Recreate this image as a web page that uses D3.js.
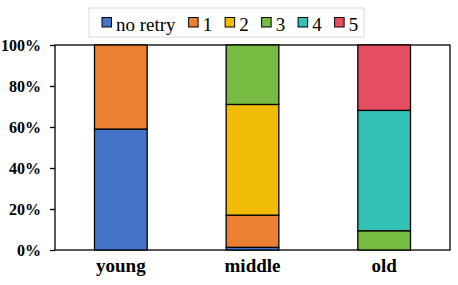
<!DOCTYPE html>
<meta charset="utf-8">
<style>
  body { margin: 0; background: #fff; }
  #chart text { font-family: "Liberation Serif", "Times New Roman", serif; fill: #000; }
</style>
<body>
<svg id="chart"></svg>
</body>
<script src="https://cdn.jsdelivr.net/npm/d3@7"></script>
<script>
// categories and series (percent of each group)
var groups = ["young", "middle", "old"];
var seriesNames = ["no retry", "1", "2", "3", "4", "5"];
var seriesColors = ["#4674CA", "#ED7F33", "#F1BC05", "#77BC42", "#31C1B5", "#E54D60"];
var noRetry = [59, 1.3, 0];
var retry1  = [41, 15.7, 0];
var retry2  = [0, 54, 0];
var retry3  = [0, 29, 9.4];
var retry4  = [0, 0, 58.7];
var retry5  = [0, 0, 31.9];
var yTicks = [0, 20, 40, 60, 80, 100];

var width = 458, height = 285;
var margin = {top: 45, right: 8, bottom: 35, left: 55};

var svg = d3.select("#chart")
    .attr("width", width)
    .attr("height", height);

// build rows for d3.stack
var allSeries = [noRetry, retry1, retry2, retry3, retry4, retry5];
var rows = groups.map(function(g, i) {
  var row = {group: g};
  seriesNames.forEach(function(s, j) { row[s] = allSeries[j][i]; });
  return row;
});

var x = d3.scaleBand()
    .domain(groups)
    .range([margin.left, width - margin.right])
    .paddingInner(0.6)
    .paddingOuter(0.3);

var y = d3.scaleLinear()
    .domain([0, 100])
    .range([height - margin.bottom, margin.top]);

var color = d3.scaleOrdinal(seriesNames, seriesColors);

var stacked = d3.stack().keys(seriesNames)(rows);

// frame
svg.append("rect")
    .attr("x", margin.left)
    .attr("y", margin.top)
    .attr("width", width - margin.right - margin.left)
    .attr("height", height - margin.bottom - margin.top)
    .attr("fill", "none")
    .attr("stroke", "#000")
    .attr("stroke-width", 1.3);

// bars
svg.append("g")
  .selectAll("g")
  .data(stacked)
  .join("g")
    .attr("fill", function(d) { return color(d.key); })
  .selectAll("rect")
  .data(function(d) { return d.filter(function(p) { return p[1] - p[0] > 0; }); })
  .join("rect")
    .attr("x", function(d) { return x(d.data.group); })
    .attr("y", function(d) { return y(d[1]); })
    .attr("width", x.bandwidth())
    .attr("height", function(d) { return y(d[0]) - y(d[1]); })
    .attr("stroke", "#000")
    .attr("stroke-width", 1.3);

// y axis
var yAxis = svg.append("g")
    .attr("transform", "translate(" + margin.left + ",0)")
    .call(d3.axisLeft(y).tickValues(yTicks).tickSize(5).tickPadding(9)
      .tickFormat(function(d) { return d + "%"; }));
yAxis.select(".domain").remove();
yAxis.selectAll("line").attr("stroke-width", 1.3);
yAxis.selectAll("text")
    .attr("font-size", 16)
    .attr("font-weight", "bold");

// x axis labels
var xAxis = svg.append("g")
    .attr("transform", "translate(0," + (height - margin.bottom) + ")")
    .call(d3.axisBottom(x).tickSize(0).tickPadding(9));
xAxis.select(".domain").remove();
xAxis.selectAll("text")
    .attr("font-size", 19)
    .attr("font-weight", "bold");

// legend
var legend = svg.append("g");
var legendBox = legend.append("rect")
    .attr("fill", "#fff")
    .attr("stroke", "#d9d9d9")
    .attr("stroke-width", 1);

var lx = 102, ly = 22;
seriesNames.forEach(function(s) {
  legend.append("rect")
      .attr("x", lx)
      .attr("y", ly - 4.5)
      .attr("width", 9.5)
      .attr("height", 9.5)
      .attr("fill", color(s))
      .attr("stroke", "#000")
      .attr("stroke-width", 1);
  var t = legend.append("text")
      .attr("x", lx + 14)
      .attr("y", ly + 8.5)
      .attr("font-size", 19)
      .text(s);
  lx += 14 + t.node().getComputedTextLength() + 13;
});
legendBox
    .attr("x", 89)
    .attr("y", 8)
    .attr("width", lx - 13 + 6 - 89)
    .attr("height", 29);
</script>
